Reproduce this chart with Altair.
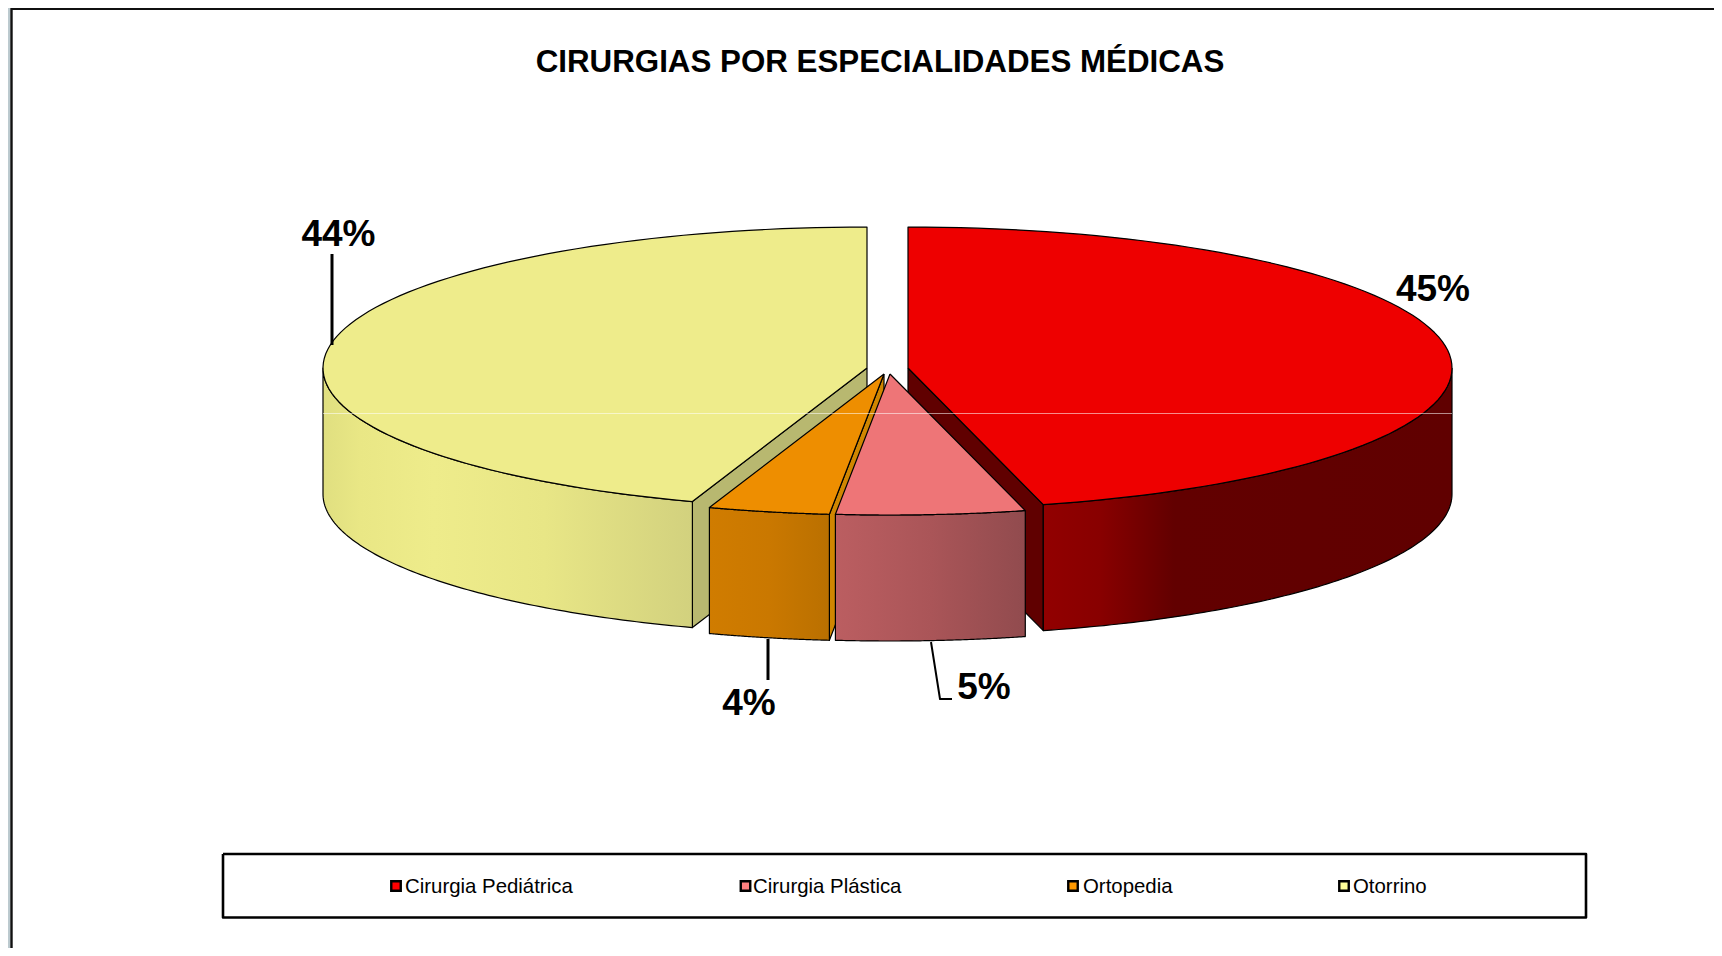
import math
import altair as alt
import pandas as pd

# --- data
categories = ["Cirurgia Pediátrica", "Cirurgia Plástica", "Ortopedia", "Otorrino"]
shares = [46.0, 5.6, 3.6, 44.8]          # slice sweep, percent of the circle
labels = ["45%", "5%", "4%", "44%"]
swatch_colors = ["#ff0000", "#ff8080", "#ff9900", "#ffff99"]

TITLE = "CIRURGIAS POR ESPECIALIDADES MÉDICAS"
# pie geometry
RX, RY, DEPTH = 544, 141, 126
apex = {"red": (908, 368), "pink": (890, 374), "orange": (884, 374), "yellow": (867, 368)}

cum = [0]
for s in shares:
    cum.append(cum[-1] + s * 3.6)
a_red, a_pink, a_orange, a_end = cum[1], cum[2], cum[3], cum[4]


def ell(c, deg, dy=0):
    r = math.radians(deg)
    return (c[0] + RX * math.sin(r), c[1] - RY * math.cos(r) + dy)


def arc(c, a, b, dy=0, n=90):
    return [ell(c, a + (b - a) * i / n, dy) for i in range(n + 1)]


SX = alt.Scale(domain=[8, 1714], nice=False, zero=False)
SY = alt.Scale(domain=[948, 8], nice=False, zero=False)
X = alt.X("x:Q", scale=SX, axis=None)
Y = alt.Y("y:Q", scale=SY, axis=None)


def poly(points, fill=None, stroke="#000000", sw=1.2, close=True, opacity=1):
    pts = list(points) + ([points[0]] if close else [])
    df = pd.DataFrame({"x": [p[0] for p in pts], "y": [p[1] for p in pts], "o": range(len(pts))})
    kw = {"strokeWidth": sw, "strokeJoin": "round", "interpolate": "linear", "opacity": opacity}
    if stroke:
        kw["stroke"] = stroke
    else:
        kw["strokeWidth"] = 0
    if fill is not None:
        kw["fill"] = fill
    return alt.Chart(df).mark_line(**kw).encode(x=X, y=Y, order="o:Q")


def grad(*stops):
    return alt.LinearGradient(
        gradient="linear", x1=0, x2=1, y1=0, y2=0,
        stops=[alt.GradientStop(offset=o, color=c) for o, c in stops],
    )


def top(c, a, b):
    return [c] + arc(c, a, b)


def outer(c, a, b):
    return arc(c, a, b) + arc(c, b, a, DEPTH)


def cut(c, a):
    e = ell(c, a)
    return [c, e, (e[0], e[1] + DEPTH), (c[0], c[1] + DEPTH)]


red, pink, orange, yellow = apex["red"], apex["pink"], apex["orange"], apex["yellow"]

layers = [
    # window frame
    poly([(8, 8), (10.5, 8), (10.5, 948), (8, 948)], fill="#bccacf", stroke=None),
    poly([(11.5, 948), (11.5, 8.7), (1714, 8.7)], stroke="#101010", sw=2.4, close=False),
    # red slice
    poly(cut(red, a_red), fill="#600000"),
    poly(outer(red, 90, a_red), fill=grad((0, "#920000"), (0.14, "#880000"), (0.32, "#620000"), (1, "#600000"))),
    poly(top(red, 0, a_red), fill="#ee0000"),
    # yellow slice
    poly(cut(yellow, a_orange), fill="#b8b870"),
    poly(outer(yellow, a_orange, 270), fill=grad((0, "#e0df80"), (0.1, "#e9e785"), (0.3, "#eeec8b"), (0.6, "#e8e686"), (1, "#d2d17e"))),
    poly(top(yellow, a_orange, a_end), fill="#eeec8b"),
    # orange slice
    poly(cut(orange, a_pink), fill="#d08600"),
    poly(outer(orange, a_pink, a_orange), fill=grad((0, "#d07c00"), (0.5, "#ca7800"), (1, "#ba7000"))),
    poly(top(orange, a_pink, a_orange), fill="#ee8e00"),
    # pink slice
    poly(outer(pink, a_red, a_pink), fill=grad((0, "#bb5e61"), (0.5, "#aa5558"), (1, "#914b4e"))),
    poly(top(pink, a_red, a_pink), fill="#ee7577"),
    # thin pale line across the pie
    poly([(323, 413.5), (1452, 413.5)], stroke="#ffffff", sw=1, close=False, opacity=0.55),
    # leader lines
    poly([(332, 254), (332, 345)], sw=3, close=False),
    poly([(768, 639), (768, 680)], sw=3, close=False),
    poly([(931, 642), (940, 699), (952, 699)], sw=2, close=False),
    # legend frame
    poly([(223, 854), (1586, 854), (1586, 917.5), (223, 917.5)], sw=2.6),
]

label_df = pd.DataFrame({"x": [1433, 984, 749, 338.5], "y": [301, 699, 715, 246], "t": labels})
layers.append(
    alt.Chart(label_df)
    .mark_text(font="Liberation Sans", fontWeight="bold", fontSize=37, baseline="alphabetic", align="center", color="#000000")
    .encode(x=X, y=Y, text="t:N")
)
title_df = pd.DataFrame({"x": [880], "y": [72], "t": [TITLE]})
layers.append(
    alt.Chart(title_df)
    .mark_text(font="Liberation Sans", fontWeight="bold", fontSize=31.3, baseline="alphabetic", align="center", color="#000000")
    .encode(x=X, y=Y, text="t:N")
)
legend_df = pd.DataFrame({
    "cat": categories,
    "c": swatch_colors,
    "mx": [396, 745.5, 1073, 1344],
    "tx": [405, 753, 1083, 1353],
    "y": [886] * 4,
    "ty": [893] * 4,
})
layers.append(
    alt.Chart(legend_df)
    .mark_square(size=90, opacity=1, stroke="#000000", strokeWidth=2.4)
    .encode(x=alt.X("mx:Q", scale=SX, axis=None), y=Y,
            fill=alt.Fill("c:N", scale=None, legend=None))
)
layers.append(
    alt.Chart(legend_df)
    .mark_text(font="Liberation Sans", fontSize=20.4, align="left", baseline="alphabetic", color="#000000")
    .encode(x=alt.X("tx:Q", scale=SX, axis=None), y=alt.Y("ty:Q", scale=SY, axis=None), text="cat:N")
)

chart = (
    alt.layer(*layers)
    .properties(width=1706, height=940, padding=0, background="#ffffff",
                autosize=alt.AutoSizeParams(type="none"))
    .configure_view(stroke=None)
)
chart.save("out.html", embed_options={"renderer": "svg", "actions": False})
